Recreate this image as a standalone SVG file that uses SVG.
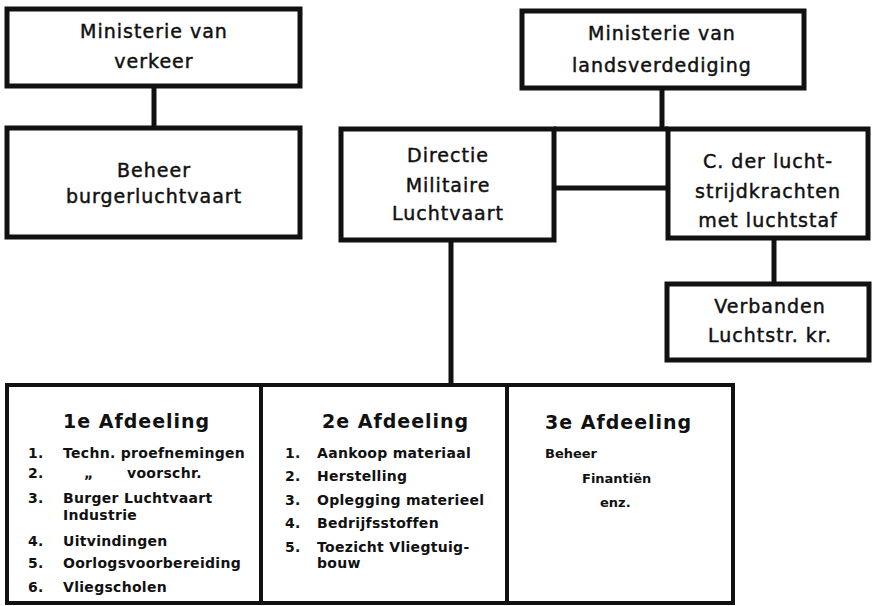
<svg xmlns="http://www.w3.org/2000/svg" width="872" height="606" viewBox="0 0 872 606">
<style>
.box{fill:#fff;stroke:#111;stroke-width:5}
.lbox{fill:#fff;stroke:#111;stroke-width:4}
.con{stroke:#111;stroke-width:5;fill:none}
.t{font-family:"DejaVu Sans","Liberation Sans",sans-serif;font-size:19px;fill:#111;stroke:#111;stroke-width:0.45px;text-anchor:middle;letter-spacing:1px}
.h{font-family:"DejaVu Sans","Liberation Sans",sans-serif;font-size:19px;font-weight:bold;fill:#111;letter-spacing:1px}
.i{font-family:"DejaVu Sans","Liberation Sans",sans-serif;font-size:14px;font-weight:bold;fill:#111;letter-spacing:0.3px}
.s{font-family:"DejaVu Sans","Liberation Sans",sans-serif;font-size:13px;font-weight:bold;fill:#111}
</style>
<rect width="872" height="606" fill="#fff"/>
<g id="connectors">
<line class="con" x1="154" y1="86" x2="154" y2="128"/>
<line class="con" x1="662" y1="88" x2="662" y2="129"/>
<line class="con" x1="554" y1="129" x2="668" y2="129"/>
<line class="con" x1="554" y1="188" x2="668" y2="188"/>
<line class="con" x1="774" y1="238" x2="774" y2="284"/>
<line class="con" x1="451" y1="240" x2="451" y2="385"/>
</g>
<g id="min-verkeer">
<rect class="box" x="7" y="9" width="293" height="77"/>
<text class="t" x="154" y="38">Ministerie van</text>
<text class="t" x="154" y="68">verkeer</text>
</g>
<g id="beheer-burger">
<rect class="box" x="7" y="128" width="293" height="109"/>
<text class="t" x="154" y="177">Beheer</text>
<text class="t" x="154" y="203">burgerluchtvaart</text>
</g>
<g id="min-landsverdediging">
<rect class="box" x="522" y="11" width="282" height="77"/>
<text class="t" x="662" y="40">Ministerie van</text>
<text class="t" x="662" y="72">landsverdediging</text>
</g>
<g id="directie">
<rect class="box" x="341" y="129" width="213" height="111"/>
<text class="t" x="448" y="162">Directie</text>
<text class="t" x="448" y="192">Militaire</text>
<text class="t" x="448" y="220">Luchtvaart</text>
</g>
<g id="c-luchtstrijdkrachten">
<rect class="box" x="668" y="129" width="200" height="109"/>
<text class="t" x="768" y="168">C. der lucht-</text>
<text class="t" x="768" y="198">strijdkrachten</text>
<text class="t" x="768" y="227">met luchtstaf</text>
</g>
<g id="verbanden">
<rect class="box" x="667" y="284" width="202" height="76"/>
<text class="t" x="770" y="313">Verbanden</text>
<text class="t" x="770" y="342">Luchtstr. kr.</text>
</g>
<g id="afdeeling-1">
<rect class="lbox" x="7" y="385" width="254" height="218"/>
<text class="h" x="63" y="428">1e Afdeeling</text>
<text class="i" x="28" y="458">1.</text><text class="i" x="63" y="458">Techn. proefnemingen</text>
<text class="i" x="28" y="478">2.</text><text class="i" y="478"><tspan x="84">„</tspan><tspan x="127">voorschr.</tspan></text>
<text class="i" x="28" y="503">3.</text><text class="i" x="63" y="503">Burger Luchtvaart</text>
<text class="i" x="63" y="520">Industrie</text>
<text class="i" x="28" y="546">4.</text><text class="i" x="63" y="546">Uitvindingen</text>
<text class="i" x="28" y="568">5.</text><text class="i" x="63" y="568">Oorlogsvoorbereiding</text>
<text class="i" x="28" y="592">6.</text><text class="i" x="63" y="592">Vliegscholen</text>
</g>
<g id="afdeeling-2">
<rect class="lbox" x="261" y="385" width="246" height="218"/>
<text class="h" x="322" y="428">2e Afdeeling</text>
<text class="i" x="285" y="458">1.</text><text class="i" x="317" y="458">Aankoop materiaal</text>
<text class="i" x="285" y="481">2.</text><text class="i" x="317" y="481">Herstelling</text>
<text class="i" x="285" y="505">3.</text><text class="i" x="317" y="505">Oplegging materieel</text>
<text class="i" x="285" y="528">4.</text><text class="i" x="317" y="528">Bedrijfsstoffen</text>
<text class="i" x="285" y="552">5.</text><text class="i" x="317" y="552">Toezicht Vliegtuig-</text>
<text class="i" x="317" y="568">bouw</text>
</g>
<g id="afdeeling-3">
<rect class="lbox" x="507" y="385" width="226" height="218"/>
<text class="h" x="545" y="429">3e Afdeeling</text>
<text class="s" x="545" y="458">Beheer</text>
<text class="s" x="582" y="483">Finantiën</text>
<text class="s" x="600" y="507">enz.</text>
</g>
</svg>
